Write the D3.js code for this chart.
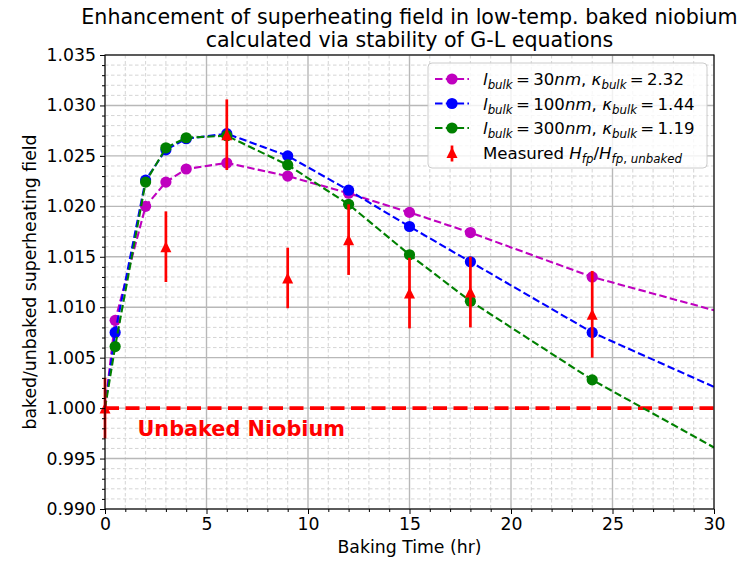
<!DOCTYPE html>
<html>
<head>
<meta charset="utf-8">
<script src="https://cdn.jsdelivr.net/npm/d3@7"></script>
<style>
  body { margin: 0; background: #fff; }
  svg { display: block; font-family: "DejaVu Sans", sans-serif; }
</style>
</head>
<body>
<svg id="chart" width="746" height="562"></svg>
<script>
// Baking times (hr) at which the G-L stability calculation was done
const lineTimes   = [0, 0.5, 2, 3, 4, 6, 9, 12, 15, 18, 24, 30];
const markerTimes = [0.5, 2, 3, 4, 6, 9, 12, 15, 18, 24];

// baked / unbaked superheating field ratio for each bulk mean free path
const ratio30nm  = [1.0000, 1.0087, 1.0200, 1.0224, 1.0237, 1.0243, 1.0230, 1.0213, 1.0194, 1.0174, 1.0130, 1.0097];
const ratio100nm = [1.0000, 1.0075, 1.0226, 1.0256, 1.0267, 1.0272, 1.0250, 1.0216, 1.0180, 1.0145, 1.0075, 1.0021];
const ratio300nm = [1.0000, 1.0061, 1.0224, 1.0258, 1.0268, 1.0270, 1.0241, 1.0202, 1.0152, 1.0106, 1.0028, 0.9961];

// measured field of first penetration, normalised to the unbaked cavity
const measuredTimes = [0, 3, 6, 9, 12, 15, 18, 24];
const measuredRatio = [1.0000, 1.0160, 1.0271, 1.0129, 1.0167, 1.0114, 1.0115, 1.0093];
const measuredErr   = [0.0030, 0.0035, 0.0035, 0.0030, 0.0035, 0.0035, 0.0035, 0.0043];

// axis ticks
const xTicks = [0, 5, 10, 15, 20, 25, 30];
const yTicks = [0.990, 0.995, 1.000, 1.005, 1.010, 1.015, 1.020, 1.025, 1.030, 1.035];
const xMinorTicks = d3.range(0, 31, 1);
const yMinorTicks = d3.range(0, 46).map(i => +(0.990 + i * 0.001).toFixed(3));

const series = [
  { values: ratio30nm,  color: "#bf00bf", lbulk: "30",  kappa: "2.32" },
  { values: ratio100nm, color: "#0000ff", lbulk: "100", kappa: "1.44" },
  { values: ratio300nm, color: "#008000", lbulk: "300", kappa: "1.19" }
];

const W = 746, H = 562;
const m = { top: 55, right: 32, bottom: 53, left: 105 };
const iw = W - m.left - m.right;
const ih = H - m.top - m.bottom;
const labelSize = 17.3;

const x = d3.scaleLinear().domain([0, 30]).range([0, iw]);
const y = d3.scaleLinear().domain([0.990, 1.035]).range([ih, 0]);

const svg = d3.select("#chart");
const g = svg.append("g").attr("transform", `translate(${m.left},${m.top})`);

g.append("clipPath").attr("id", "plot-clip")
  .append("rect").attr("width", iw).attr("height", ih);

// ---- grid ----
const isMajorX = v => xTicks.includes(v);
const isMajorY = v => yTicks.some(t => Math.abs(t - v) < 1e-9);

const grid = g.append("g");
grid.selectAll("line.vminor").data(xMinorTicks.filter(v => !isMajorX(v))).join("line")
  .attr("x1", d => x(d)).attr("x2", d => x(d)).attr("y1", 0).attr("y2", ih)
  .attr("stroke", "#d0d0d0").attr("stroke-width", 0.9).attr("stroke-dasharray", "3.5,2.5");
grid.selectAll("line.hminor").data(yMinorTicks.filter(v => !isMajorY(v))).join("line")
  .attr("x1", 0).attr("x2", iw).attr("y1", d => y(d)).attr("y2", d => y(d))
  .attr("stroke", "#d0d0d0").attr("stroke-width", 0.9).attr("stroke-dasharray", "3.5,2.5");
grid.selectAll("line.vmajor").data(xTicks).join("line")
  .attr("x1", d => x(d)).attr("x2", d => x(d)).attr("y1", 0).attr("y2", ih)
  .attr("stroke", "#b8b8b8").attr("stroke-width", 1.4);
grid.selectAll("line.hmajor").data(yTicks).join("line")
  .attr("x1", 0).attr("x2", iw).attr("y1", d => y(d)).attr("y2", d => y(d))
  .attr("stroke", "#b8b8b8").attr("stroke-width", 1.4);

// ---- unbaked reference level ----
g.append("line")
  .attr("x1", x(0)).attr("x2", x(30)).attr("y1", y(1.0)).attr("y2", y(1.0))
  .attr("stroke", "#ff0000").attr("stroke-width", 3.8).attr("stroke-dasharray", "14,6.5");

g.append("text")
  .attr("x", x(1.6)).attr("y", y(0.9972))
  .attr("fill", "#ff0000").attr("font-weight", "bold").attr("font-size", 20.8)
  .text("Unbaked Niobium");

// ---- model curves ----
const line = d3.line().x(d => x(d[0])).y(d => y(d[1]));
const plot = g.append("g").attr("clip-path", "url(#plot-clip)");
series.forEach(s => {
  const pts = lineTimes.map((t, i) => [t, s.values[i]]);
  plot.append("path").datum(pts)
    .attr("fill", "none").attr("stroke", s.color).attr("stroke-width", 2.1)
    .attr("stroke-dasharray", "7.5,3.3").attr("d", line);
  plot.selectAll(null).data(pts.filter(p => markerTimes.includes(p[0]))).join("circle")
    .attr("cx", d => x(d[0])).attr("cy", d => y(d[1])).attr("r", 5.6)
    .attr("fill", s.color);
});

// ---- measurements with error bars ----
function triPath(size) {
  const h = size / 2;
  return `M0,${-h}L${h},${h}L${-h},${h}Z`;
}
const meas = g.append("g");
measuredTimes.forEach((t, i) => {
  meas.append("line")
    .attr("x1", x(t)).attr("x2", x(t))
    .attr("y1", y(measuredRatio[i] - measuredErr[i]))
    .attr("y2", y(measuredRatio[i] + measuredErr[i]))
    .attr("stroke", "#ff0000").attr("stroke-width", 2.7);
  meas.append("path")
    .attr("transform", `translate(${x(t)},${y(measuredRatio[i])})`)
    .attr("d", triPath(11)).attr("fill", "#ff0000");
});

// ---- axes ----
const fmt = d3.format(".3f");
const yAxis = g.append("g")
  .call(d3.axisLeft(y).tickValues(yTicks).tickSize(5).tickPadding(4).tickFormat(fmt));
const yMinorAxis = g.append("g")
  .call(d3.axisLeft(y).tickValues(yMinorTicks.filter(v => !isMajorY(v))).tickSize(3).tickFormat(""));
const xAxis = g.append("g").attr("transform", `translate(0,${ih})`)
  .call(d3.axisBottom(x).tickValues(xTicks).tickSize(5).tickPadding(4).tickFormat(d3.format("d")));
const xMinorAxis = g.append("g").attr("transform", `translate(0,${ih})`)
  .call(d3.axisBottom(x).tickValues(xMinorTicks.filter(v => !isMajorX(v))).tickSize(3).tickFormat(""));
[yAxis, yMinorAxis, xAxis, xMinorAxis].forEach(a => {
  a.select(".domain").remove();
  a.selectAll(".tick line").attr("stroke", "#000").attr("stroke-width", 1);
  a.selectAll("text").attr("font-family", "DejaVu Sans").attr("font-size", labelSize).attr("fill", "#000");
});

// frame
g.append("rect").attr("width", iw).attr("height", ih)
  .attr("fill", "none").attr("stroke", "#000").attr("stroke-width", 1.1);

// axis titles
svg.append("text")
  .attr("x", m.left + iw / 2).attr("y", 553)
  .attr("text-anchor", "middle").attr("font-size", labelSize)
  .text("Baking Time (hr)");
svg.append("text")
  .attr("transform", `translate(36,${m.top + ih / 2}) rotate(-90)`)
  .attr("text-anchor", "middle").attr("font-size", labelSize)
  .text("baked/unbaked superheating field");

// title
const title = svg.append("text").attr("text-anchor", "middle").attr("font-size", 20.6);
title.append("tspan").attr("x", m.left + iw / 2).attr("y", 24)
  .text("Enhancement of superheating field in low-temp. baked niobium");
title.append("tspan").attr("x", m.left + iw / 2).attr("y", 47)
  .text("calculated via stability of G-L equations");

// ---- legend ----
const lg = svg.append("g").attr("transform", "translate(428,63)");
lg.append("rect").attr("width", 279).attr("height", 105).attr("rx", 4)
  .attr("fill", "#fff").attr("fill-opacity", 0.8)
  .attr("stroke", "#cccccc").attr("stroke-width", 1);

const rowY = i => 16 + i * 24.5;
const textX = 55;
const legendSize = 16.6;

function sub(t, str) {
  t.append("tspan").attr("font-style", "italic").attr("font-size", 11.8).attr("dy", 4).text(str);
}

series.forEach((s, i) => {
  const yy = rowY(i);
  lg.append("line").attr("x1", 7).attr("x2", 41).attr("y1", yy).attr("y2", yy)
    .attr("stroke", s.color).attr("stroke-width", 2.1).attr("stroke-dasharray", "7.5,3.3");
  lg.append("circle").attr("cx", 24).attr("cy", yy).attr("r", 5.6).attr("fill", s.color);
  const t = lg.append("text").attr("x", textX).attr("y", yy + 6).attr("font-size", legendSize);
  t.append("tspan").attr("font-style", "italic").text("l");
  sub(t, "bulk");
  t.append("tspan").attr("dy", -4).text(`\u2009=\u2009${s.lbulk}`);
  t.append("tspan").attr("font-style", "italic").text("nm");
  t.append("tspan").text(", ");
  t.append("tspan").attr("font-style", "italic").text("κ");
  sub(t, "bulk");
  t.append("tspan").attr("dy", -4).text(`\u2009=\u2009${s.kappa}`);
});

{
  const yy = rowY(3);
  lg.append("line").attr("x1", 24).attr("x2", 24).attr("y1", yy - 7).attr("y2", yy + 9)
    .attr("stroke", "#ff0000").attr("stroke-width", 2.7);
  lg.append("path").attr("transform", `translate(24,${yy})`).attr("d", triPath(11)).attr("fill", "#ff0000");
  const t = lg.append("text").attr("x", textX).attr("y", yy + 6).attr("font-size", legendSize);
  t.append("tspan").text("Measured ");
  t.append("tspan").attr("font-style", "italic").text("H");
  sub(t, "fp");
  t.append("tspan").attr("dy", -4).text("/");
  t.append("tspan").attr("font-style", "italic").text("H");
  const s2 = t.append("tspan").attr("font-size", 11.8).attr("dy", 4);
  s2.append("tspan").attr("font-style", "italic").text("fp");
  s2.append("tspan").text(", ");
  s2.append("tspan").attr("font-style", "italic").text("unbaked");
}
</script>
</body>
</html>
